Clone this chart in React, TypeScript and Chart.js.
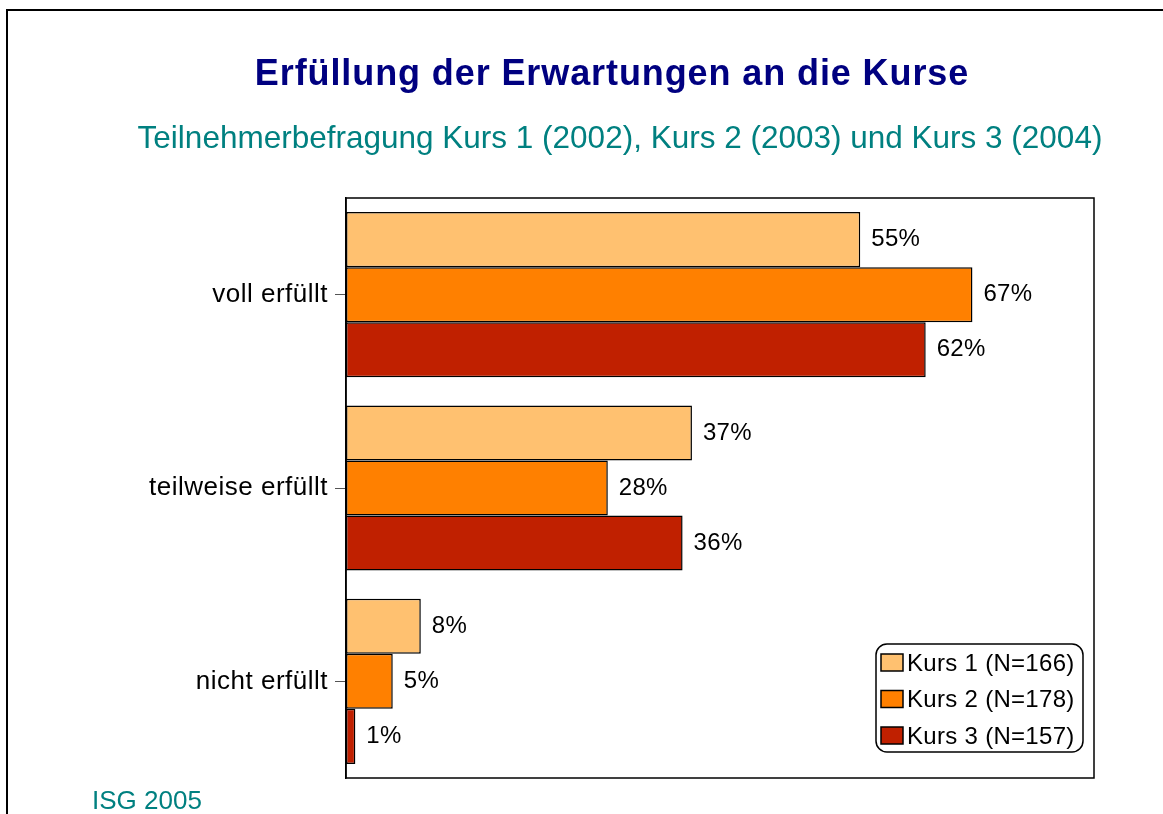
import React, { useEffect, useRef } from "react";
import { Chart, registerables } from "chart.js";

Chart.register(...registerables);

const titleText = "Erfüllung der Erwartungen an die Kurse";
const subtitleText = "Teilnehmerbefragung Kurs 1 (2002), Kurs 2 (2003) und Kurs 3 (2004)";
const footerText = "ISG 2005";

const categories = ["voll erfüllt", "teilweise erfüllt", "nicht erfüllt"];
const seriesLabels = ["Kurs 1 (N=166)", "Kurs 2 (N=178)", "Kurs 3 (N=157)"];
const kurs1 = [55, 37, 8];
const kurs2 = [67, 28, 5];
const kurs3 = [62, 36, 1];
const seriesColors = ["#FFC170", "#FF8000", "#C02000"];

const FONT = "Arial, 'Liberation Sans', sans-serif";

const decorPlugin = {
  id: "decor",
  beforeDraw(chart: any) {
    const ctx = chart.ctx;
    ctx.save();
    ctx.fillStyle = "#ffffff";
    ctx.fillRect(0, 0, chart.width, chart.height);
    // outer frame
    ctx.strokeStyle = "#000000";
    ctx.lineWidth = 2;
    ctx.beginPath();
    ctx.moveTo(7, chart.height + 2);
    ctx.lineTo(7, 10);
    ctx.lineTo(chart.width + 2, 10);
    ctx.stroke();
    // title
    ctx.textAlign = "center";
    ctx.textBaseline = "alphabetic";
    ctx.fillStyle = "#000080";
    ctx.font = `bold 36px ${FONT}`;
    (ctx as any).letterSpacing = "0.9px";
    ctx.fillText(titleText, 612, 85);
    ctx.fillStyle = "#008080";
    ctx.font = `31.5px ${FONT}`;
    (ctx as any).letterSpacing = "0px";
    ctx.fillText(subtitleText, 620, 148);
    ctx.textAlign = "left";
    ctx.font = `26px ${FONT}`;
    ctx.fillText(footerText, 92, 809);
    ctx.restore();
    // slight letter spacing for the category labels drawn next
    (ctx as any).letterSpacing = "0.5px";
  },
  afterDatasetsDraw(chart: any) {
    const ctx = chart.ctx;
    const area = chart.chartArea;
    ctx.save();
    (ctx as any).letterSpacing = "0.3px";
    // plot frame
    ctx.strokeStyle = "#000000";
    ctx.lineWidth = 1.5;
    ctx.strokeRect(area.left, area.top, area.right - area.left, area.bottom - area.top);
    // data labels
    ctx.fillStyle = "#000000";
    ctx.font = `24px ${FONT}`;
    ctx.textAlign = "left";
    ctx.textBaseline = "middle";
    chart.data.datasets.forEach((ds: any, di: number) => {
      const meta = chart.getDatasetMeta(di);
      meta.data.forEach((bar: any, i: number) => {
        ctx.fillText(`${ds.data[i]}%`, bar.x + 11, bar.y);
      });
    });
    // legend
    const bx = area.right - 218;
    const by = area.bottom - 134;
    const bw = 207;
    const bh = 108;
    ctx.beginPath();
    ctx.roundRect(bx, by, bw, bh, 11);
    ctx.fillStyle = "#ffffff";
    ctx.fill();
    ctx.lineWidth = 1.5;
    ctx.strokeStyle = "#000000";
    ctx.stroke();
    ctx.font = `24px ${FONT}`;
    chart.data.datasets.forEach((ds: any, di: number) => {
      const cy = by + 19 + di * 36.5;
      ctx.fillStyle = ds.backgroundColor;
      ctx.fillRect(bx + 5, cy - 9, 22, 17);
      ctx.lineWidth = 1.5;
      ctx.strokeStyle = "#000000";
      ctx.strokeRect(bx + 5, cy - 9, 22, 17);
      ctx.fillStyle = "#000000";
      ctx.fillText(ds.label, bx + 31, cy + 1);
    });
    ctx.restore();
    (ctx as any).letterSpacing = "0px";
  },
};

export default function App() {
  const ref = useRef<HTMLCanvasElement | null>(null);
  useEffect(() => {
    if (!ref.current) return;
    const chart = new Chart(ref.current, {
      type: "bar",
      data: {
        labels: categories,
        datasets: [
          { label: seriesLabels[0], data: kurs1, backgroundColor: seriesColors[0] },
          { label: seriesLabels[1], data: kurs2, backgroundColor: seriesColors[1] },
          { label: seriesLabels[2], data: kurs3, backgroundColor: seriesColors[2] },
        ].map((d) => ({
          ...d,
          borderColor: "#000000",
          borderWidth: 1.5,
          borderSkipped: false,
          categoryPercentage: 0.854,
          barPercentage: 1,
        })),
      },
      options: {
        indexAxis: "y",
        responsive: false,
        animation: false,
        events: [],
        layout: { padding: { top: 198, right: 69, bottom: 36, left: 0 } },
        plugins: {
          legend: { display: false },
          title: { display: false },
          tooltip: { enabled: false },
        },
        scales: {
          x: {
            display: false,
            min: 0,
            max: 80,
          },
          y: {
            afterFit: (scale: any) => {
              scale.width = 346;
            },
            border: { display: true, color: "#000000", width: 1.5 },
            grid: {
              display: true,
              drawOnChartArea: false,
              drawTicks: true,
              tickLength: 11,
              offset: false,
              color: "#555555",
              lineWidth: 1,
            },
            ticks: {
              color: "#000000",
              font: { family: FONT, size: 26 },
              padding: 7,
            },
          },
        },
      },
      plugins: [decorPlugin],
    } as any);
    return () => chart.destroy();
  }, []);
  return (
    <div style={{ position: "absolute", left: 0, top: 0, width: 1163, height: 814 }}>
      <canvas ref={ref} width={1163} height={814} style={{ display: "block" }} />
    </div>
  );
}
